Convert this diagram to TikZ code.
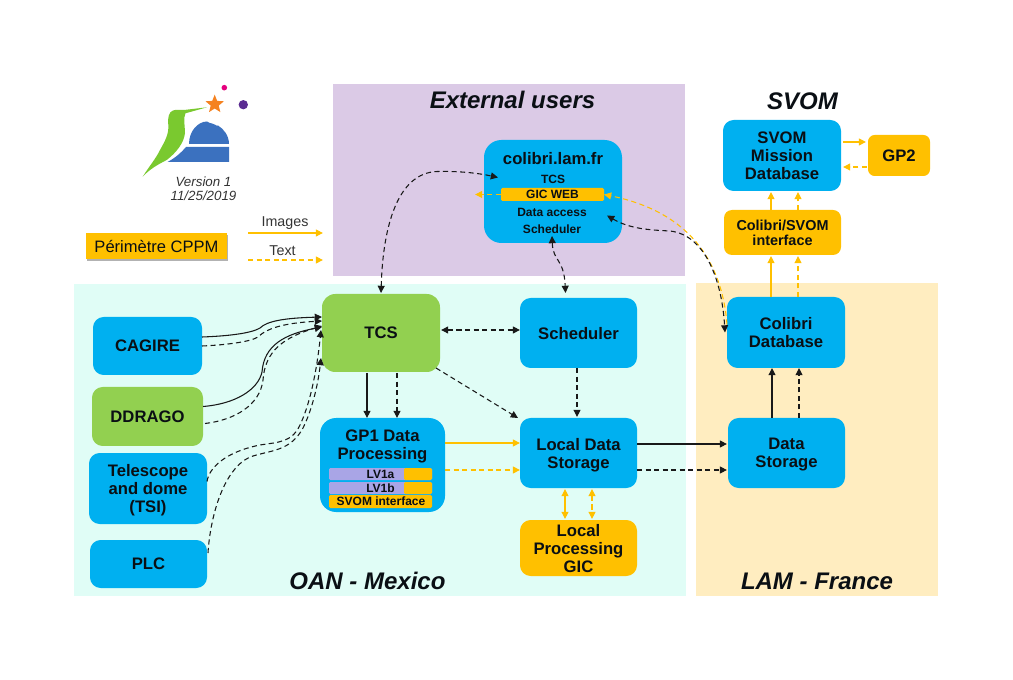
\documentclass[tikz,border=0pt]{standalone}
\usepackage{fontspec}
\setmainfont{Liberation Sans}
\usetikzlibrary{arrows.meta,calc,shapes.geometric,shadows}
\definecolor{cblue}{HTML}{00B0F0}
\definecolor{cgreen}{HTML}{92D050}
\definecolor{corange}{HTML}{FFC000}
\definecolor{cpurple}{HTML}{DBCAE6}
\definecolor{cmint}{HTML}{E0FDF6}
\definecolor{ccream}{HTML}{FFEDC0}
\definecolor{cbar}{HTML}{A9A5E6}
\definecolor{ctext}{HTML}{0A0F14}
\definecolor{cdome}{HTML}{3B71BF}
\definecolor{cbird}{HTML}{7AC92F}
\definecolor{cstar}{HTML}{F58220}
\definecolor{cpink}{HTML}{E5007E}
\definecolor{cviolet}{HTML}{5B2C91}
\tikzset{
  x=.75pt,y=-.75pt,
  >={Triangle[length=5.4pt,width=5.2pt]},
  wh/.style 2 args={minimum width=#1*.75pt,minimum height=#2*.75pt},
  zone/.style={inner sep=0pt,outer sep=0pt},
  boxbase/.style={inner sep=0pt,outer sep=0pt,rounded corners=8pt,align=center,text=ctext,text depth=0pt,
    font=\fontsize{12.5}{13.5}\selectfont\bfseries},
  bluebox/.style={boxbase,fill=cblue},
  greenbox/.style={boxbase,fill=cgreen},
  orangebox/.style={boxbase,fill=corange},
  smalltext/.style={inner sep=0pt,text=ctext,font=\fontsize{9}{10}\selectfont\bfseries},
  bar/.style={inner sep=0pt,outer sep=0pt,rounded corners=1pt},
  heading/.style={inner sep=0pt,text=ctext,font=\fontsize{18}{20}\selectfont\bfseries\itshape},
  legendtext/.style={inner sep=0pt,text=black!80,font=\fontsize{10.7}{12}\selectfont},
  blk/.style={draw=black!90,line width=.8pt},
  blkd/.style={blk,dash pattern=on 3.8pt off 2.6pt},
  org/.style={draw=corange,line width=.8pt},
  orgd/.style={org,dash pattern=on 3.8pt off 2.6pt},
}
\begin{document}
\begin{tikzpicture}
\useasboundingbox (0,0) rectangle (1013,680);
% zones
\node[zone,fill=cpurple,wh={352}{192}] (zext) at (509,180) {};
\node[zone,fill=cmint,wh={612}{312}] (zoan) at (380,440) {};
\node[zone,fill=ccream,wh={242}{313}] (zlam) at (817,439.5) {};
\node[heading] (text) at (512.5,100) {External users};
\node[heading] (toan) at (367.5,581) {OAN - Mexico};
\node[heading] (tlam) at (817,581) {LAM - France};
\node[heading] (tsvom) at (802.5,101) {SVOM};
% logo
\fill[cbird] (142.7,176.7) .. controls (150,165) and (155,160) .. (160,150)
  .. controls (165,141) and (169,134) .. (168.3,125)
  .. controls (167.5,117) and (169,112) .. (173,110.5)
  .. controls (176,109.3) and (180,110) .. (184,110) -- (207,107.3) -- (185.5,113.3)
  .. controls (183,118) and (185,126) .. (185,133)
  .. controls (184,143) and (176,153) .. (166.7,160)
  .. controls (157,165) and (150,169) .. (142.7,176.7) -- cycle;
\fill[cdome] (189,144) .. controls (189,131) and (198,121.5) .. (207,121.5)
  .. controls (209,122) and (210,124) .. (212,123.5) .. controls (214,123) and (216,126.5) .. (218,125.5)
  .. controls (224,129) and (229,136) .. (229,144) -- cycle;
\fill[cdome] (167.5,162) .. controls (175,158) and (181,153) .. (186,147) -- (229,147) -- (229,162) -- cycle;
\node[star,star points=5,star point ratio=2.3,fill=cstar,inner sep=0pt,minimum size=14.5pt] (lstar) at (214.7,104.3) {};
\fill[cpink] (224.3,87.7) circle[radius=2.1pt];
\fill[cviolet] (243.3,104.7) circle[radius=3.5pt];
\node[inner sep=0pt,align=center,text=black!80,font=\fontsize{10}{10.5}\selectfont\itshape] (ver) at (203.5,189) {Version 1\\11/25/2019};
% legend
\node[inner sep=0pt,outer sep=0pt,fill=corange,wh={141}{26},text=ctext,font=\fontsize{12.4}{14}\selectfont,
  drop shadow={shadow xshift=.4pt,shadow yshift=-1.3pt,fill=black,opacity=.3}] (perim) at (156.5,246) {Périmètre CPPM};
\node[legendtext] (limg) at (285,223.5) {Images};
\node[legendtext] (ltxt) at (282.5,250.5) {Text};
\coordinate (la1) at (248,233); \coordinate (la2) at (323,233);
\coordinate (lb1) at (248,260); \coordinate (lb2) at (323,260);
\draw[org,->] (la1) -- (la2);
\draw[orgd,->] (lb1) -- (lb2);
% main nodes
\node[bluebox,wh={109}{58}] (cagire) at (147.5,346) {CAGIRE};
\node[greenbox,wh={111}{59}] (ddrago) at (147.5,416.5) {DDRAGO};
\node[bluebox,wh={118}{71}] (tsi) at (148,488.5) {Telescope\\and dome\\(TSI)};
\node[bluebox,wh={117}{48}] (plc) at (148.5,564) {PLC};
\node[greenbox,wh={118}{78},rounded corners=10pt] (tcs) at (381,333) {TCS};
\node[bluebox,wh={117}{70}] (sched) at (578.5,333) {Scheduler};
\node[bluebox,wh={117}{70}] (lds) at (578.5,453) {Local Data\\Storage};
\node[orangebox,wh={117}{56}] (lpg) at (578.5,548) {Local\\Processing\\GIC};
\node[bluebox,wh={117}{70}] (ds) at (786.5,453) {Data\\Storage};
\node[bluebox,wh={118}{71}] (cdb) at (786,332.5) {Colibri\\Database};
\node[bluebox,wh={118}{71}] (smd) at (782,155.5) {SVOM\\Mission\\Database};
\node[orangebox,wh={62}{41},rounded corners=5pt] (gp2) at (899,155.5) {GP2};
\node[orangebox,wh={117}{45},rounded corners=6pt,font=\fontsize{10.8}{11.5}\selectfont\bfseries] (csi) at (782.5,232.5) {Colibri/SVOM\\interface};
% GP1
\node[bluebox,wh={125}{94},rounded corners=12pt] (gp1) at (382.5,465) {};
\node[inner sep=0pt,align=center,text=ctext,text depth=0pt,font=\fontsize{12.5}{13.5}\selectfont\bfseries] (gp1t) at (382.5,445) {GP1 Data\\Processing};
\node[bar,fill=cbar,wh={103}{12}] (lva) at (380.5,474) {};
\node[bar,fill=corange,wh={28}{12}] (lvao) at (418,474) {};
\node[bar,fill=cbar,wh={103}{12}] (lvb) at (380.5,488) {};
\node[bar,fill=corange,wh={28}{12}] (lvbo) at (418,488) {};
\node[bar,fill=corange,wh={103}{13}] (svi) at (380.5,501.5) {};
\node[smalltext] (lvat) at (380.5,474) {LV1a};
\node[smalltext] (lvbt) at (380.5,488) {LV1b};
\node[smalltext] (svit) at (381,501.5) {SVOM interface};
% colibri.lam.fr
\node[bluebox,wh={138}{103},rounded corners=13pt] (web) at (553,191.5) {};
\node[inner sep=0pt,text=ctext,font=\fontsize{12.5}{14}\selectfont\bfseries] (webt) at (553,159) {colibri.lam.fr};
\node[smalltext] (wtcs) at (553,179) {TCS};
\node[bar,fill=corange,wh={103}{13}] (gic) at (552.5,194.5) {};
\node[smalltext] (gict) at (552.5,194.5) {GIC WEB};
\node[smalltext] (wda) at (552,212) {Data access};
\node[smalltext] (wsc) at (552,229) {Scheduler};
% connectors among top area
\draw[blkd,<->] ($(tcs.north)+(0,-1)$) .. controls (383,225) and (398,173) .. (437,171.5)
  .. controls (458,171) and (478,173) .. ($(web.west)+(14,-14)$);
\draw[blkd,<->] ($(web.south)+(-1,-7)$) .. controls (553,262) and (564,258) .. ($(sched.north)+(-13,-5)$);
\draw[orgd,->] ($(cdb.west)+(0,-8)$) .. controls (722,262) and (690,212) .. ($(gic.east)+(0,0)$);
\draw[orgd,->] (gic.west) -- ($(gic.west)+(-26,0)$);
\draw[blkd,<->] ($(web.east)+(-15,24)$) .. controls (630,229) and (650,230) .. (670,231)
  .. controls (706,235) and (722,282) .. ($(cdb.west)+(-2,0)$);
\draw[blkd,<->] ($(tcs.east)+(1,-3)$) -- ($(sched.west)+(0,-3)$);
\draw[blk,->] ($(tcs.south)+(-14,1)$) -- ($(gp1.north)+(-15.5,0)$);
\draw[blkd,->] ($(tcs.south)+(16,1)$) -- ($(gp1.north)+(14.5,0)$);
\draw[blkd,->] ($(tcs.south east)+(-4,-4)$) -- ($(lds.north west)+(-2,0)$);
\draw[blkd,->] ($(sched.south)+(-1.5,0)$) -- ($(lds.north)+(-1.5,-1)$);
\draw[org,->] ($(gp1.east)+(0,-22)$) -- ($(lds.west)+(0,-10)$);
\draw[orgd,->] ($(gp1.east)+(0,5)$) -- ($(lds.west)+(0,17)$);
\draw[org,<->] ($(lds.south)+(-13.5,1)$) -- ($(lpg.north)+(-13.5,-1)$);
\draw[orgd,<->] ($(lds.south)+(13.5,1)$) -- ($(lpg.north)+(13.5,-1)$);
\draw[blk,->] ($(lds.east)+(0,-9)$) -- ($(ds.west)+(-1,-9)$);
\draw[blkd,->] ($(lds.east)+(0,17)$) -- ($(ds.west)+(-1,17)$);
\draw[blk,->] ($(ds.north)+(-14.5,0)$) -- ($(cdb.south)+(-14,0)$);
\draw[blkd,->] ($(ds.north)+(12.5,0)$) -- ($(cdb.south)+(13,0)$);
\draw[org,->] ($(cdb.north)+(-15,0)$) -- ($(csi.south)+(-11.5,1)$);
\draw[orgd,->] ($(cdb.north)+(12,0)$) -- ($(csi.south)+(15.5,1)$);
\draw[org,->] ($(csi.north)+(-11.5,0)$) -- ($(smd.south)+(-11,1)$);
\draw[orgd,->] ($(csi.north)+(15.5,0)$) -- ($(smd.south)+(16,1)$);
\draw[org,->] ($(smd.east)+(2,-13.5)$) -- ($(gp2.west)+(-2,-13.5)$);
\draw[orgd,->] ($(gp2.west)+(-1,11.5)$) -- ($(smd.east)+(2,11.5)$);
% inputs to TCS
\draw[blk,->] ($(cagire.east)+(0,-9)$) .. controls (230,336) and (252,333) .. (260,328)
  .. controls (267,321) and (285,318) .. ($(tcs.west)+(0,-16)$);
\draw[blkd,->] ($(cagire.east)+(0,0)$) .. controls (225,345) and (250,342) .. (258,337)
  .. controls (267,328) and (285,323) .. ($(tcs.west)+(0,-12)$);
\draw[blk,->] ($(ddrago.east)+(0,-10)$) .. controls (235,404) and (258,390) .. (262,372)
  .. controls (264,345) and (285,334) .. ($(tcs.west)+(0,-6)$);
\draw[blkd,->] ($(ddrago.east)+(2,7)$) .. controls (235,420) and (260,405) .. (263,380)
  .. controls (265,350) and (285,337) .. ($(tcs.west)+(0,-7)$);
\draw[blkd,->] ($(tsi.east)+(0,-7)$) .. controls (209,468) and (225,452) .. (260,445)
  .. controls (280,442) and (292,442) .. (300,425)
  .. controls (312,400) and (318,360) .. ($(tcs.west)+(-1,-3)$);
\draw[blkd,->] ($(plc.east)+(1,-11)$) .. controls (210,520) and (222,470) .. (250,457)
  .. controls (270,450) and (290,452) .. (303,428)
  .. controls (312,410) and (318,385) .. ($(tcs.west)+(-1,25)$);
\end{tikzpicture}
\end{document}
